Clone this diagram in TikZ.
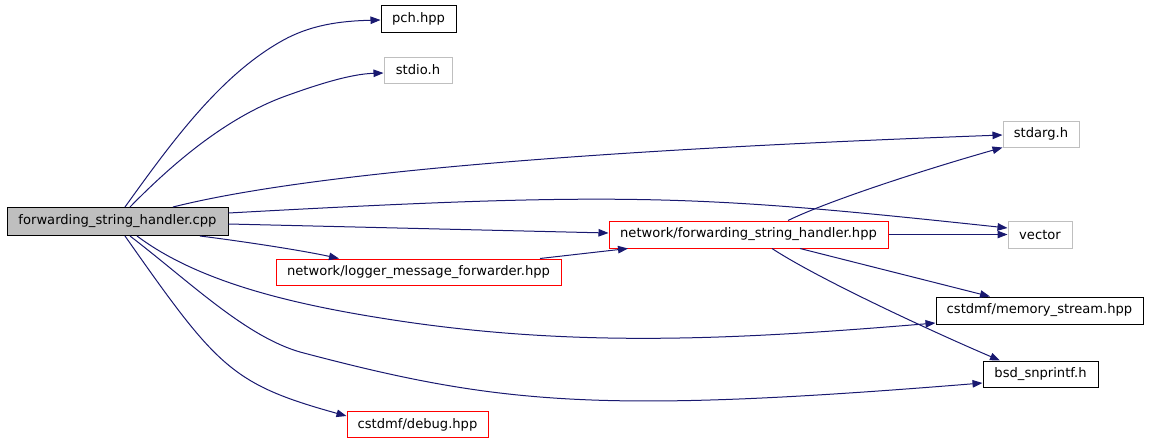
\documentclass[tikz,border=0pt]{standalone}
\usepackage{fontspec}
\setmainfont{DejaVu Sans}
\usetikzlibrary{arrows.meta}

\definecolor{edgeblue}{HTML}{191970}
\definecolor{boxgray}{HTML}{BFBFBF}

\tikzset{
    filebox/.style={draw=black, line width=1pt, inner sep=0pt,
        font=\fontsize{13.1}{15}\selectfont},
    dep/.style={draw=edgeblue, line width=1pt,
        -{Triangle[length=10pt,width=7.5pt]}},
}

\begin{document}
\begin{tikzpicture}[x=1pt,y=-1pt]

    \useasboundingbox (0,0) rectangle (1149,442);

    % Source file
    \node[filebox, fill=boxgray, minimum width=221pt, minimum height=28pt] (main) at (117.5,221.5) {forwarding\_string\_handler.cpp};

    % Included files
    \node[filebox, minimum width=75pt, minimum height=27pt] (pch) at (418.5,18.5) {pch.hpp};
    \node[filebox, draw=boxgray, minimum width=68pt, minimum height=26pt] (stdio) at (418,70) {stdio.h};
    \node[filebox, draw=boxgray, minimum width=76pt, minimum height=26pt] (stdarg) at (1041,134) {stdarg.h};
    \node[filebox, draw=boxgray, minimum width=64pt, minimum height=27pt] (vector) at (1040,234.5) {vector};
    \node[filebox, draw=red, minimum width=279pt, minimum height=27pt] (netfwd) at (748.5,234.5) {network/forwarding\_string\_handler.hpp};
    \node[filebox, draw=red, minimum width=285pt, minimum height=26pt] (logger) at (418.5,272) {network/logger\_message\_forwarder.hpp};
    \node[filebox, minimum width=207pt, minimum height=27pt] (memstream) at (1039.5,310.5) {cstdmf/memory\_stream.hpp};
    \node[filebox, minimum width=115pt, minimum height=26pt] (snprintf) at (1040.5,374) {bsd\_snprintf.h};
    \node[filebox, draw=red, minimum width=141pt, minimum height=26pt] (debug) at (417.5,424.5) {cstdmf/debug.hpp};

    % Edges from the source file
    \draw[dep] ([xshift=7.5pt]main.north) .. controls (171,143) and (219,77) .. (280,42)
        .. controls (310,24.5) and (341,21) .. ([yshift=-1.5pt]pch.west);
    \draw[dep] ([xshift=12.5pt]main.north) .. controls (175,161) and (227,118) .. (283,97)
        .. controls (316,85) and (350,74) .. ([yshift=-3pt]stdio.west);
    \draw[dep] ([xshift=55.5pt]main.north) .. controls (338,165.5) and (703,146) .. ([yshift=-1pt]stdarg.west);
    \draw[dep] ([yshift=8.5pt]main.east) .. controls (628,191) and (698,195) .. ([yshift=6.5pt]vector.west);
    \draw[dep] ([yshift=-2.5pt]main.east) -- ([yshift=1.5pt]netfwd.west);
    \draw[dep] ([xshift=82.5pt]main.south) .. controls (240,241) and (300,250) .. ([xshift=-79.5pt]logger.north);
    \draw[dep] ([xshift=19.5pt]main.south) .. controls (201,284) and (300,306) .. (400,321)
        .. controls (578,347.5) and (736,339.6) .. ([yshift=-12.5pt]memstream.west);
    \draw[dep] ([xshift=12.5pt]main.south) .. controls (190,282) and (245,336) .. (300,352)
        .. controls (500,405) and (600,414) .. ([yshift=-9pt]snprintf.west);
    \draw[dep] ([xshift=7.5pt]main.south) .. controls (217,367) and (231,384) .. ([yshift=8.5pt]debug.west);

    % Edges from the included headers
    \draw[dep] ([xshift=121.5pt]logger.north) -- ([xshift=-120.5pt]netfwd.south);
    \draw[dep] ([xshift=39.5pt]netfwd.north) .. controls (830,200) and (930,168) .. (stdarg.south west);
    \draw[dep] (netfwd.east) -- (vector.west);
    \draw[dep] ([xshift=51.5pt]netfwd.south) -- ([xshift=-49.5pt]memstream.north);
    \draw[dep] ([xshift=23.5pt]netfwd.south) .. controls (820,280) and (940,335) .. ([xshift=-40.5pt]snprintf.north);

\end{tikzpicture}
\end{document}
